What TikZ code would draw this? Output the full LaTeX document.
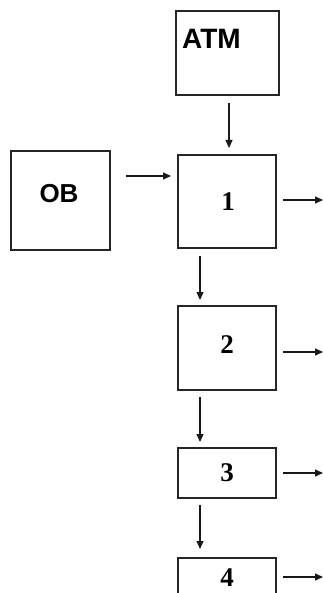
\documentclass[tikz,border=0pt]{standalone}
\usepackage{fontspec}
\setmainfont{Liberation Serif}
\setsansfont{Liberation Sans}
\usetikzlibrary{arrows.meta,calc}
\begin{document}
\begin{tikzpicture}[x=1pt,y=-1pt,
  box/.style={draw=black!85,line width=1.2pt,minimum width=98pt,inner sep=0pt,outer sep=0pt},
  arr/.style={draw=black!90,line width=1.2pt,-{Triangle[length=8pt,width=7pt]}},
  lab/.style={inner sep=0pt,font=\sffamily\bfseries\fontsize{26}{26}\selectfont},
  num/.style={inner sep=0pt,font=\bfseries\fontsize{27}{27}\selectfont}]
\useasboundingbox (0,0) rectangle (323,593);
\clip (0,0) rectangle (323,593);
% boxes
\node[box,minimum width=103pt,minimum height=84pt] (atm) at (227.5,53) {};
\node[box,minimum width=99pt,minimum height=99pt] (ob) at (60.5,200.5) {};
\node[box,minimum height=93pt] (b1) at (227,201.5) {};
\node[box,minimum height=84pt] (b2) at (227,348) {};
\node[box,minimum height=50pt] (b3) at (227,473) {};
\node[box,minimum height=50pt] (b4) at (227,583) {};
% labels
\node[lab,anchor=west,font=\sffamily\bfseries\fontsize{28}{28}\selectfont] (tatm) at (182,39) {ATM};
\node[lab] (tob) at (59,193.5) {OB};
\node[num] (t1) at (228,202) {1};
\node[num] (t2) at (227,345) {2};
\node[num] (t3) at (227,473) {3};
\node[num] (t4) at (227,578) {4};
% free ends
\coordinate (o1) at (323,200);
\coordinate (o2) at (323,352);
\coordinate (o3) at (323,473);
\coordinate (o4) at (323,577);
% connectors
\draw[arr] ($(atm.south)+(1.5,8)$) -- ($(b1.north)+(2,-7)$);
\draw[arr] ($(ob.east)+(16,-24.5)$) -- ($(b1.west)+(-7,-25.5)$);
\draw[arr] ($(b1.south)+(-27,8)$) -- ($(b2.north)+(-27,-6)$);
\draw[arr] ($(b2.south)+(-27,7)$) -- ($(b3.north)+(-27,-6)$);
\draw[arr] ($(b3.south)+(-27,7)$) -- ($(b4.north)+(-27,-9)$);
\draw[arr] ($(b1.east |- o1)+(7,0)$) -- (o1);
\draw[arr] ($(b2.east |- o2)+(7,0)$) -- (o2);
\draw[arr] ($(b3.east |- o3)+(7,0)$) -- (o3);
\draw[arr] ($(b4.east |- o4)+(7,0)$) -- (o4);
\end{tikzpicture}
\end{document}
